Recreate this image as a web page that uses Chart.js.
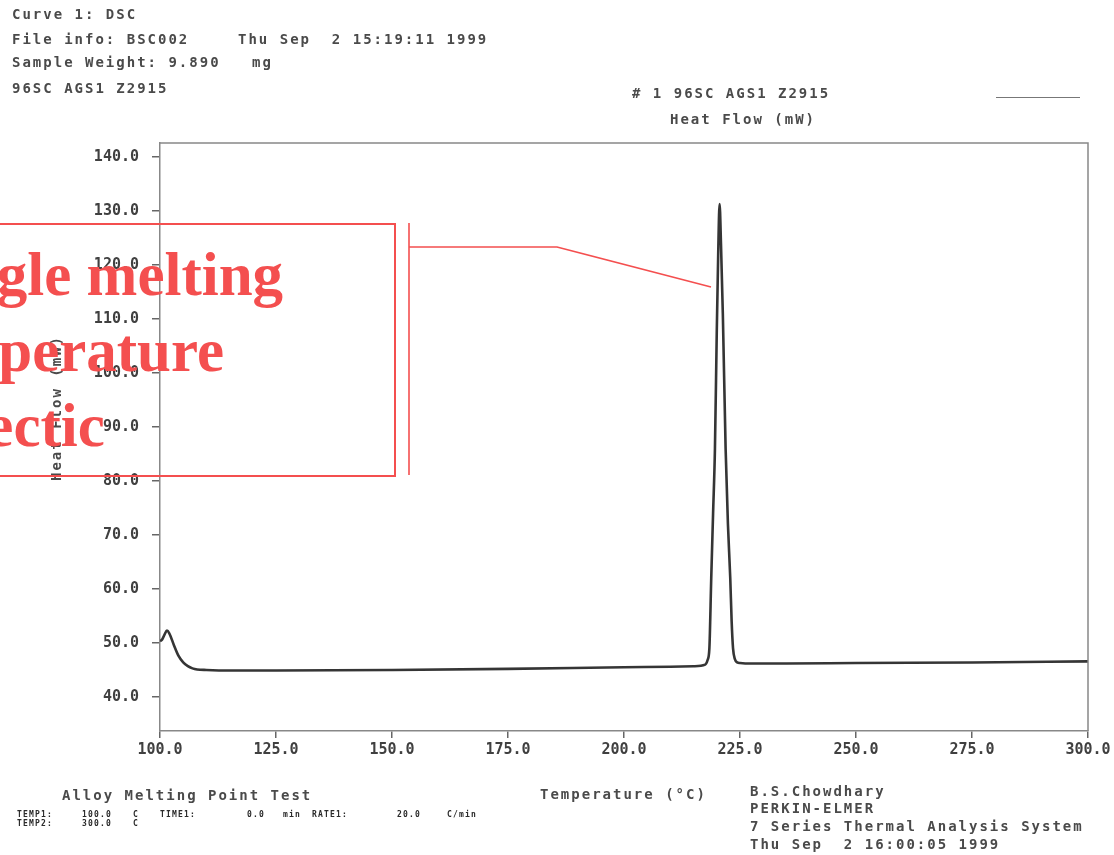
<!DOCTYPE html>
<html>
<head>
<meta charset="utf-8">
<script src="https://cdn.jsdelivr.net/npm/chart.js@4"></script>
<style>
  body { margin: 0; background: #fff; }
  #page { position: relative; width: 1114px; height: 855px; overflow: hidden; background: #fff; }
  #dsc { position: absolute; left: 0; top: 0; }
  .t { position: absolute; font-family: "DejaVu Sans Mono", monospace; font-size: 14px; font-weight: bold; line-height: 16px;
       letter-spacing: 2px; color: #4a4a4a; white-space: pre; }
  .s { position: absolute; font-family: "DejaVu Sans Mono", monospace; font-size: 8px; font-weight: bold;
       line-height: 10px; letter-spacing: 1.2px; color: #2a2a2a; white-space: pre; }
  #note { position: absolute; left: -88px; top: 237px; font-family: "Liberation Serif", serif; font-weight: bold;
          font-size: 61px; line-height: 75.5px; color: #f44f4f; white-space: pre; }
  #note span { position: relative; }
  #noteBox { position: absolute; left: -20px; top: 223px; width: 412px; height: 250px; border: 2px solid #f44f4f; }
  #legendLine { position: absolute; left: 996px; top: 97px; width: 84px; border-top: 1.5px solid #777; }
  #yTitle { position: absolute; left: 56px; top: 408px; transform: translate(-50%, -50%) rotate(-90deg); }
</style>
</head>
<body>
<div id="page">
  <canvas id="dsc" width="1114" height="855"></canvas>

  <div class="t" style="left:12px; top:6px;">Curve 1: DSC</div>
  <div class="t" style="left:12px; top:31px;">File info: BSC002</div>
  <div class="t" style="left:238px; top:31px;">Thu Sep  2 15:19:11 1999</div>
  <div class="t" style="left:12px; top:54px;">Sample Weight: 9.890</div>
  <div class="t" style="left:252px; top:54px;">mg</div>
  <div class="t" style="left:12px; top:80px;">96SC AGS1 Z2915</div>

  <div class="t" style="left:632px; top:85px;"># 1 96SC AGS1 Z2915</div>
  <div class="t" style="left:670px; top:111px;">Heat Flow (mW)</div>
  <div id="legendLine"></div>

  <div class="t" id="yTitle">Heat Flow (mW)</div>

  <div class="t" style="left:62px; top:787px;">Alloy Melting Point Test</div>
  <div class="t" style="left:540px; top:786px;">Temperature (°C)</div>
  <div class="t" style="left:750px; top:783px;">B.S.Chowdhary</div>
  <div class="t" style="left:750px; top:800px;">PERKIN-ELMER</div>
  <div class="t" style="left:750px; top:818px;">7 Series Thermal Analysis System</div>
  <div class="t" style="left:750px; top:836px;">Thu Sep  2 16:00:05 1999</div>

  <div class="s" style="left:17px; top:810px;">TEMP1:</div>
  <div class="s" style="left:82px; top:810px;">100.0</div>
  <div class="s" style="left:133px; top:810px;">C</div>
  <div class="s" style="left:160px; top:810px;">TIME1:</div>
  <div class="s" style="left:247px; top:810px;">0.0</div>
  <div class="s" style="left:283px; top:810px;">min</div>
  <div class="s" style="left:312px; top:810px;">RATE1:</div>
  <div class="s" style="left:397px; top:810px;">20.0</div>
  <div class="s" style="left:447px; top:810px;">C/min</div>
  <div class="s" style="left:17px; top:819px;">TEMP2:</div>
  <div class="s" style="left:82px; top:819px;">300.0</div>
  <div class="s" style="left:133px; top:819px;">C</div>

  <div id="noteBox"></div>
  <div id="note"><span>Single melting</span>
<span style="left:-12px;">temperature</span>
<span style="left:-7px;">eutectic</span></div>
  <svg width="1114" height="855" style="position:absolute; left:0; top:0;">
    <g stroke="#f44f4f" stroke-width="1.6" fill="none">
      <line x1="409" y1="223" x2="409" y2="475" />
      <polyline points="409,247 557,247 711,287" />
    </g>
  </svg>
</div>

<script>
// Temperatura (°C) y flujo de calor (mW)
var temps = [100, 100.5, 101, 101.5, 102, 103, 104, 105, 106, 107, 108, 110, 115, 125, 150, 175, 200, 210, 215,
  217.5, 218, 218.4, 218.8, 219.2, 219.6, 220, 220.3, 220.6, 220.9, 221.3, 221.9, 222.4, 222.9, 223.2, 223.5,
  223.9, 224.4, 225, 227, 235, 250, 275, 300];
var heatFlow = [50.3, 50.7, 51.6, 52.3, 51.8, 49.6, 47.6, 46.4, 45.7, 45.3, 45.1, 45.0, 44.9, 44.9, 45.0, 45.2, 45.5, 45.6, 45.7,
  46.0, 46.8, 49, 62, 74, 86, 108, 122, 131.3, 124, 111, 86, 72, 62, 54, 49,
  47, 46.4, 46.3, 46.2, 46.2, 46.3, 46.4, 46.6];

var xTicks = [100, 125, 150, 175, 200, 225, 250, 275, 300];
var yTicks = [40, 50, 60, 70, 80, 90, 100, 110, 120, 130, 140];

var points = temps.map(function (t, i) {
  return { x: t, y: heatFlow[i] };
});

// Marco completo alrededor del area del grafico
var framePlugin = {
  id: "frame",
  afterDraw: function (chart) {
    var a = chart.chartArea;
    var ctx = chart.ctx;
    ctx.save();
    ctx.strokeStyle = "#888";
    ctx.lineWidth = 1.5;
    ctx.beginPath();
    ctx.moveTo(a.left, a.top);
    ctx.lineTo(a.right, a.top);
    ctx.lineTo(a.right, a.bottom);
    ctx.stroke();
    ctx.restore();
  },
};

var ctx = document.getElementById("dsc").getContext("2d");
var dscChart = new Chart(ctx, {
  type: "line",
  data: {
    datasets: [
      {
        label: "# 1 96SC AGS1 Z2915",
        data: points,
        borderColor: "#353535",
        borderWidth: 2.6,
        pointRadius: 0,
        fill: false,
        cubicInterpolationMode: "monotone",
      },
    ],
  },
  options: {
    responsive: false,
    animation: false,
    layout: { padding: { top: 143, right: 26, bottom: 0, left: 0 } },
    plugins: { legend: { display: false }, tooltip: { enabled: false } },
    scales: {
      x: {
        type: "linear",
        min: 100,
        max: 300,
        afterFit: function (scale) {
          scale.height = 124;
        },
        afterBuildTicks: function (scale) {
          scale.ticks = xTicks.map(function (v) { return { value: v }; });
        },
        grid: { drawOnChartArea: false, tickLength: 7, color: "#666", lineWidth: 1.5 },
        border: { color: "#888", width: 1.5 },
        ticks: {
          maxRotation: 0,
          padding: 3,
          color: "#404040",
          font: { family: "DejaVu Sans Mono", size: 15, weight: "bold" },
          callback: function (v) { return Number(v).toFixed(1); },
        },
      },
      y: {
        type: "linear",
        min: 33.7,
        max: 142.6,
        afterFit: function (scale) {
          scale.width = 160;
        },
        afterBuildTicks: function (scale) {
          scale.ticks = yTicks.map(function (v) { return { value: v }; });
        },
        grid: { drawOnChartArea: false, tickLength: 8, color: "#666", lineWidth: 1.5 },
        border: { color: "#888", width: 1.5 },
        ticks: {
          padding: 13,
          color: "#404040",
          font: { family: "DejaVu Sans Mono", size: 15, weight: "bold" },
          callback: function (v) { return Number(v).toFixed(1); },
        },
      },
    },
  },
  plugins: [framePlugin],
});
</script>
</body>
</html>
